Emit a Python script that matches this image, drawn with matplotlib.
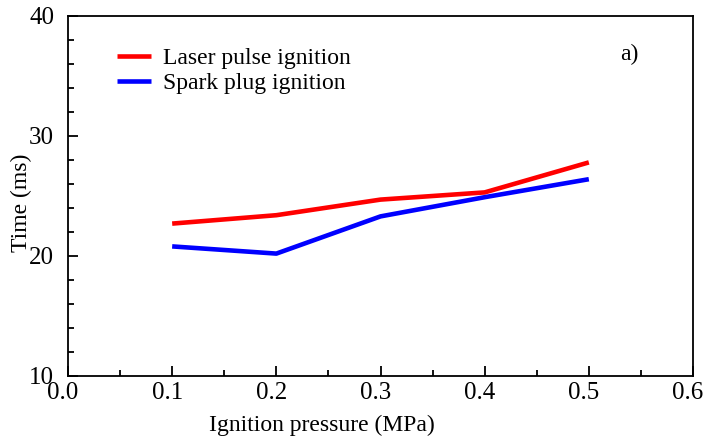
import matplotlib
matplotlib.use("Agg")
import matplotlib.pyplot as plt
import matplotlib.transforms as mtransforms
from matplotlib.ticker import MultipleLocator, FormatStrFormatter

pressure = [0.1, 0.2, 0.3, 0.4, 0.5]
laser_time = [22.7, 23.4, 24.7, 25.3, 27.8]
spark_time = [20.8, 20.2, 23.3, 24.9, 26.4]
series_labels = ["Laser pulse ignition", "Spark plug ignition"]

plt.rcParams['font.family'] = ['Liberation Serif', 'DejaVu Serif']

fig = plt.figure(figsize=(7.05, 4.37), dpi=100)
ax = fig.add_axes([68/705, 1 - 376/437, 625/705, 360/437])

ax.plot(pressure, laser_time, color='#ff0000', lw=3.3, label=series_labels[0], solid_capstyle='butt')
ax.plot(pressure, spark_time, color='#0000ff', lw=3.3, label=series_labels[1], solid_capstyle='butt')

ax.set_xlim(0, 0.6)
ax.set_ylim(10, 40)
ax.xaxis.set_major_locator(MultipleLocator(0.1))
ax.xaxis.set_minor_locator(MultipleLocator(0.05))
ax.yaxis.set_major_locator(MultipleLocator(10))
ax.yaxis.set_minor_locator(MultipleLocator(2))
ax.xaxis.set_major_formatter(FormatStrFormatter('%.1f'))

ax.tick_params(which='both', direction='in', top=False, right=False, width=1.3, labelsize=18)
ax.tick_params(axis='x', which='major', pad=4)
ax.tick_params(axis='y', which='major', pad=10)
ax.tick_params(which='major', length=7)
ax.tick_params(which='minor', length=4)
for s in ax.spines.values():
    s.set_linewidth(1.3)

# shift x tick labels slightly left as in the reference
shift = mtransforms.ScaledTranslation(-5/100, 0, fig.dpi_scale_trans)
for lbl in ax.get_xticklabels():
    lbl.set_transform(lbl.get_transform() + shift)

ax.set_xlabel('Ignition pressure (MPa)', fontsize=17)
ax.xaxis.set_label_coords(0.406, -0.107)
ax.set_ylabel('Time (ms)', fontsize=17)
ax.yaxis.set_label_coords(-0.058, 0.48)

leg = ax.legend(loc='upper left', bbox_to_anchor=(0.044, 0.972), frameon=False, fontsize=17,
                handlelength=1.45, handletextpad=0.5, labelspacing=0.15)

ax.text(0.884, 0.893, 'a)', transform=ax.transAxes, fontsize=17, ha='left', va='center')

fig.savefig('out.png', dpi=100)
